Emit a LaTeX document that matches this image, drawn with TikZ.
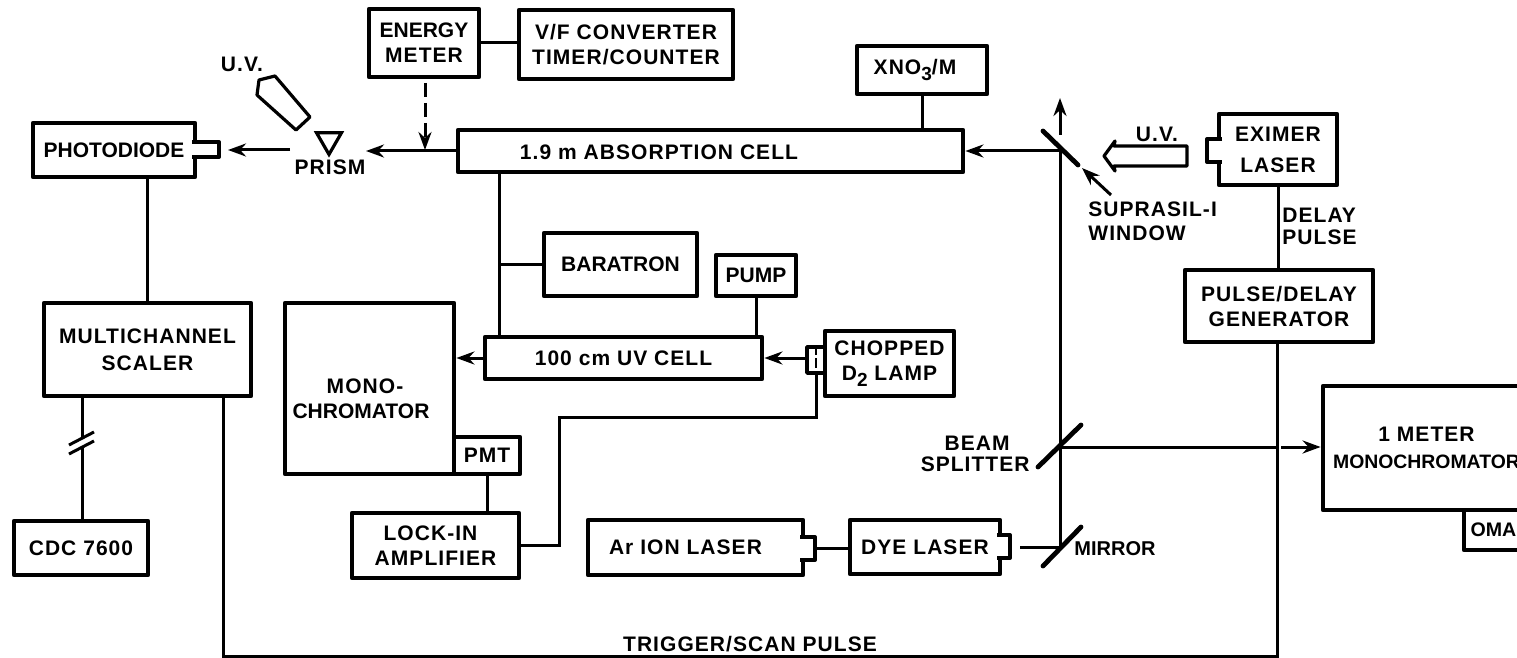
\documentclass[tikz,border=0pt]{standalone}
\usepackage{fontspec}
\setmainfont{Liberation Sans}[LetterSpace=5]
\newfontfamily\tightfont{Liberation Sans}
\usepackage{tikz}
\usetikzlibrary{shapes.geometric, arrows.meta}
\newcommand{\lowidx}[1]{\raisebox{-3pt}{\fontsize{9.5}{10}\selectfont #1}}
\newcommand{\tight}[1]{{\tightfont\bfseries #1}}
\tikzset{
    labelfont/.style={font=\bfseries\fontsize{10.5}{12.5}\selectfont},
    base/.style={draw, rectangle, line width=2.4pt, line join=round, inner sep=0pt, align=center, labelfont},
    boxsize/.style 2 args={minimum width=#1*0.5pt, minimum height=#2*0.5pt},
    tag/.style={inner sep=0pt, align=center, labelfont},
    wire/.style={line width=1.5pt},
    arrow/.style={wire, -{Stealth[length=9pt, width=6.5pt]}},
    heavy/.style={line width=2pt, line join=round},
    hollow/.style={line width=1.6pt, line join=round},
    optic/.style={line width=2.4pt, line cap=round}
}
\begin{document}
\begin{tikzpicture}[x=0.5pt, y=-0.5pt]
\path[use as bounding box, clip] (0,0) rectangle (1517,658);
\node[base, boxsize={110}{68}] (energy) at (424,43) {\tight{ENERGY}\\METER};
\node[base, boxsize={214}{69}] (vf) at (626,44.5) {V/F CONVERTER\\TIMER/COUNTER};
\node[base, boxsize={130}{48}] (xno) at (922,70) {XNO\lowidx{3}/M\hspace*{7pt}};
\node[base, boxsize={505}{42}] (cell) at (710.5,151) {};
\node[tag] (celltext) at (659,152) {1.9 m ABSORPTION CELL};
\node[base, boxsize={162}{54}] (pd) at (114,150) {\tight{PHOTODIODE}};
\node[base, boxsize={207}{93}] (multi) at (147.5,349.5) {MULTICHANNEL\\[1pt]SCALER};
\node[base, boxsize={153}{63}] (baratron) at (620.5,264.5) {\tight{BARATRON}};
\node[base, boxsize={80}{41}] (pump) at (756,275.5) {\tight{PUMP}};
\node[base, boxsize={277}{42}] (ucell) at (623.5,358) {100 cm UV CELL};
\node[base, boxsize={129}{65}] (lamp) at (889.5,363.5) {CHOPPED\\D\lowidx{2} LAMP};
\node[base, boxsize={18}{26}, line width=1.8pt] (chopper) at (816,360) {};
\node[base, boxsize={169}{171}] (mono) at (369.5,388.5) {};
\node[tag] (monotext) at (361,399) {\hspace*{4pt}MONO-\\\tight{CHROMATOR}};
\node[base, boxsize={66}{37}] (pmt) at (487,455.5) {PMT};
\node[base, boxsize={167}{65}] (lockin) at (435.5,545.5) {LOCK-IN\hspace*{5pt}\\AMPLIFIER};
\node[base, boxsize={134}{54}] (cdc) at (81,548) {CDC 7600};
\node[base, boxsize={215}{55}] (arion) at (695.5,547.5) {Ar ION LASER\hspace*{10pt}};
\node[base, boxsize={150}{54}] (dye) at (925,547) {DYE LASER};
\node[base, boxsize={118}{71}] (eximer) at (1278,149.5) {EXIMER\\[3pt]LASER};
\node[base, boxsize={188}{72}] (pulsegen) at (1279,306) {PULSE/DELAY\\GENERATOR};
\node[base, boxsize={207}{124}] (meter) at (1426.5,448) {1 METER\\[1pt]{\tightfont\bfseries\fontsize{9.7}{12}\selectfont MONOCHROMATOR}};
\node[base, boxsize={62}{40}] (oma) at (1495,530) {{\tightfont\bfseries\fontsize{9.8}{12}\selectfont OMA}\hspace*{1.5pt}};
\node[tag] (prismtext) at (330,167) {PRISM};
\node[tag] (uvleft) at (242,64) {U.V.};
\node[tag] (uvright) at (1157,134) {U.V.};
\node[tag, anchor=west, align=left] (delay) at (1282,226) {DELAY\\[-1.5pt]PULSE};
\node[tag, anchor=west, align=left] (windowtext) at (1088,221) {SUPRASIL-I\\[-0.5pt]WINDOW};
\node[tag, anchor=east, align=right] (splittertext) at (1030,454) {BEAM\hspace*{10pt}\\[-2pt]SPLITTER};
\node[tag, anchor=west] (mirrortext) at (1074,549) {{\tightfont\bfseries\fontsize{10}{12}\selectfont MIRROR}};
\node[tag] (trigger) at (750,644) {TRIGGER/SCAN PULSE};
\node[draw, regular polygon, regular polygon sides=3, shape border rotate=180, inner sep=0pt, minimum size=14.4pt, line width=1.6pt] (prism) at (329,140) {};
\coordinate (prismin) at (366,151);
\coordinate (prismout) at (290,150);
\coordinate (pdin) at (228,150);
\coordinate (dashtop) at (425,83);
\coordinate (dashtip) at (425,150);
\coordinate (window) at (1060,151);
\coordinate (splitter) at (1060,447);
\coordinate (mirror) at (1060,547);
\coordinate (upstart) at (1060,135);
\coordinate (uptip) at (1060,98);
\coordinate (winstart) at (1111,195);
\coordinate (wintip) at (1082,168);
\coordinate (riser) at (499,250);
\coordinate (jog) at (559,417);
\coordinate (arnub) at (815,548);
\coordinate (dyenub) at (1020,547);
\coordinate (trigleft) at (223,656);
\coordinate (trigright) at (1277,656);
\coordinate (gapleft) at (1277,447);
\coordinate (gapright) at (1281,447);
\coordinate (breakup) at (82,438);
\coordinate (breaklow) at (82,448);
\draw[heavy, fill=white] (192,142) -| (219,157) -- (192,157);
\draw[heavy, fill=white] (800,537) -| (815,560) -- (800,560);
\draw[heavy, fill=white] (997,535) -| (1010,558) -- (997,558);
\draw[heavy, fill=white] (1222,139) -| (1207,162) -- (1222,162);
\draw[hollow, fill=white] (1104,156) -- (1115,141) -- (1114,146) -- (1187,146) -- (1187,166) -- (1114,166) -- (1115,171) -- cycle;
\draw[hollow, fill=white] (257,95) -- (259,80) -- (275,76) -- (310,117) -- (296,130) -- cycle;
\draw[line width=0.8pt, dash pattern=on 5pt off 1.5pt] (chopper.north) -- (chopper.south);
\draw[wire] (energy.east) -- (energy.east -| vf.west);
\draw[wire] (xno.south) -- (xno.south |- cell.north);
\draw[arrow] (cell.west) -- (prismin);
\draw[arrow] (prismout) -- (pdin);
\draw[arrow, dash pattern=on 7pt off 3pt] (dashtop) -- (dashtip);
\draw[wire] (multi.north) -- (multi.north |- pd.south);
\draw[wire] (multi.south -| breakup) -- (breakup);
\draw[wire] (breaklow) -- (cdc.north -| breaklow);
\draw[wire] (69,445) -- (94,432);
\draw[wire] (69,454) -- (94,441);
\draw[wire] (trigleft |- multi.south) -- (trigleft) -- (trigright) -- (trigright |- pulsegen.south);
\draw[wire] (riser |- cell.south) -- (riser |- ucell.north);
\draw[wire] (baratron.west) -- (baratron.west -| riser);
\draw[wire] (pump.south) -- (pump.south |- ucell.north);
\draw[arrow] (ucell.west) -- (ucell.west -| mono.east);
\draw[arrow] (ucell.east -| chopper.west) -- (ucell.east);
\draw[wire] (chopper.south) |- (jog) |- (lockin.east);
\draw[wire] (pmt.south) -- (pmt.south |- lockin.north);
\draw[wire] (arnub) -- (arnub -| dye.west);
\draw[wire] (dyenub) -- (mirror);
\draw[wire] (mirror) -- (window);
\draw[arrow] (window) -- (window -| cell.east);
\draw[arrow] (upstart) -- (uptip);
\draw[arrow] (winstart) -- (wintip);
\draw[wire] (splitter) -- (gapleft);
\draw[arrow] (gapright) -- (gapright -| meter.west);
\draw[wire] (eximer.south) -- (eximer.south |- pulsegen.north);
\draw[optic] (1043,131) -- (1078,165);
\draw[optic] (1038,467) -- (1081,425);
\draw[optic] (1043,566) -- (1081,527);
\end{tikzpicture}
\end{document}
